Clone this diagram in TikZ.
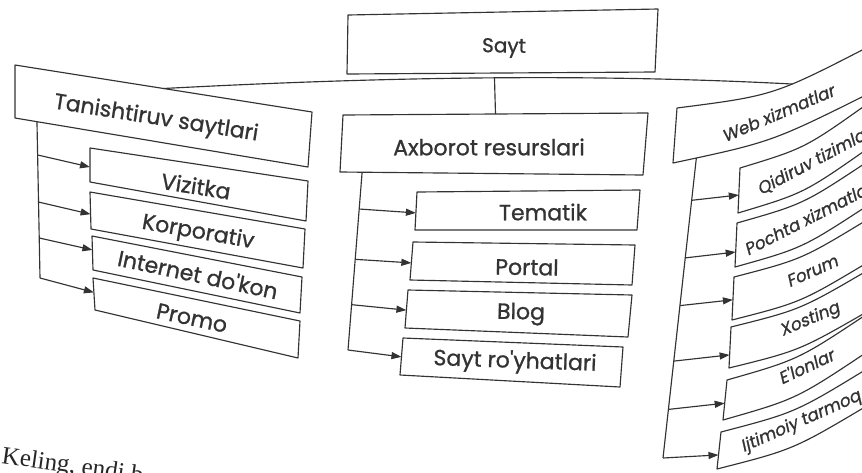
\documentclass[tikz,border=0pt]{standalone}
\usepackage{fontspec}
\setmainfont{Poppins}
\newfontfamily\lblfont{Poppins}[FakeBold=1]
\newfontfamily\slantfont{Poppins}[FakeBold=1,FakeSlant=0.2]
\newfontfamily\pageserif{Liberation Serif}
\usetikzlibrary{arrows.meta}
\definecolor{ink}{HTML}{333333}
\tikzset{
  boxline/.style={draw=ink, line width=1.15pt, line join=round},
  conn/.style={draw=ink, line width=1.15pt},
  arr/.style={conn, -{Triangle[length=10pt,width=7pt]}},
  lbl/.style={text=ink, font=\lblfont\fontsize{22}{26}\selectfont, inner sep=0pt},
  rlbl/.style={text=ink, font=\slantfont\fontsize{17}{20}\selectfont, inner sep=0pt},
}
% straight four-sided box: name, tl, tr, br, bl
\newcommand\qbox[5]{%
  \coordinate (#1-tl) at (#2);\coordinate (#1-tr) at (#3);
  \coordinate (#1-br) at (#4);\coordinate (#1-bl) at (#5);
  \draw[boxline] (#1-tl) -- (#1-tr) -- (#1-br) -- (#1-bl) -- cycle;}
% curved box running off the right edge: name, x0, ytop, x1, ybot, dtop, dbot
\newcommand\rbox[7]{%
  \pgfmathsetmacro\rbcxa{(#2+870)/2}\pgfmathsetmacro\rbcya{#3-0.3*#6}\pgfmathsetmacro\rbea{#3-#6}%
  \pgfmathsetmacro\rbcxb{(#4+870)/2}\pgfmathsetmacro\rbcyb{#5-0.3*#7}\pgfmathsetmacro\rbeb{#5-#7}%
  \coordinate (#1-tl) at (#2,#3);\coordinate (#1-bl) at (#4,#5);
  \coordinate (#1-tr) at (870,\rbea);\coordinate (#1-br) at (870,\rbeb);
  \draw[boxline] (#1-tr) .. controls (\rbcxa,\rbcya) .. (#1-tl) -- (#1-bl)
     .. controls (\rbcxb,\rbcyb) .. (#1-br);}
\begin{document}
\begin{tikzpicture}[x=1pt,y=-1pt]
\useasboundingbox (0,0) rectangle (862,472);
\clip (0,0) rectangle (862,472);

% ---- top
\qbox{sayt}{348,15}{658,9}{655,72}{347,74}
\node[lbl, font=\lblfont\fontsize{20}{24}\selectfont, rotate=-1] (sayt-t) at (504,48) {Sayt};

% ---- level 1
\qbox{tan}{15,65}{312,112}{308,167}{15,118}
\node[lbl, rotate=-9] (tan-t) at (156,119) {Tanishtiruv saytlari};

\qbox{ax}{343,115}{648,113}{643,175}{340,172}
\node[lbl] (ax-t) at (489,147) {Axborot resurslari};

\coordinate (web-tl) at (677,108); \coordinate (web-bl) at (673,163);
\coordinate (web-tr) at (870,46);  \coordinate (web-br) at (870,93);
\draw[boxline] (web-tr) .. controls (773.5,95.6) .. (web-tl) -- (web-bl)
   .. controls (771.5,142) .. (web-br);
\path (web-tl) .. controls (773.5,95.6) .. (web-tr) coordinate[pos=0.627] (web-in);
\path (web-bl) .. controls (771.5,142) .. (web-br) coordinate[pos=0.086] (web-stem);
\node[rlbl, rotate=23] (web-t) at (778,113) {Web xizmatlar};

% ---- connector from Sayt
\path (tan-tl) -- (tan-tr) coordinate[pos=0.5] (tan-in);
\draw[conn] (tan-in) .. controls (400,76) and (600,74) .. (web-in);
\path (tan-in) .. controls (400,76) and (600,74) .. (web-in) coordinate[pos=0.5] (hub);
\path (ax-tl) -- (ax-tr) coordinate[pos=0.5] (ax-top);
\draw[conn] (hub) -- (ax-top);

% ---- left group
\qbox{viz}{90,148}{308,181}{306,221}{90,182}
\qbox{kor}{90,192}{305,229}{303,268}{91,229}
\qbox{int}{92,236}{302,277}{300,313}{93,270}
\qbox{pro}{93,278}{300,321}{298,358}{95,310}
\node[lbl, rotate=-9]  (viz-t) at (196,186) {Vizitka};
\node[lbl, rotate=-10] (kor-t) at (198,233) {Korporativ};
\node[lbl, rotate=-12] (int-t) at (198,274) {Internet do'kon};
\node[lbl, rotate=-12] (pro-t) at (192,318) {Promo};

\path (tan-bl) -- (tan-br) coordinate[pos=0.075] (tan-stem);
\coordinate (tan-end) at (40,278);
\draw[conn] (tan-stem) -- (tan-end);
\path (tan-stem) -- (tan-end) coordinate[pos=0.213] (s1) coordinate[pos=0.514] (s2) coordinate[pos=0.744] (s3);
\path (viz-tl) -- (viz-bl) coordinate[pos=0.56] (viz-in);
\path (kor-tl) -- (kor-bl) coordinate[pos=0.6] (kor-in);
\path (int-tl) -- (int-bl) coordinate[pos=0.41] (int-in);
\path (pro-tl) -- (pro-bl) coordinate[pos=0.45] (pro-in);
\draw[arr] (s1) -- (viz-in);
\draw[arr] (s2) -- (kor-in);
\draw[arr] (s3) -- (int-in);
\draw[arr] (tan-end) -- (pro-in);

% ---- middle group
\qbox{tem}{417,192}{640,190}{637,230}{415,230}
\qbox{por}{413,242}{635,245}{632,285}{410,280}
\qbox{blo}{408,290}{632,295}{628,337}{405,328}
\qbox{roy}{403,338}{623,347}{620,387}{400,375}
\node[lbl] (tem-t) at (543,212) {Tematik};
\node[lbl, rotate=-1] (por-t) at (527,267) {Portal};
\node[lbl, rotate=-1] (blo-t) at (521,314) {Blog};
\node[lbl, rotate=-2] (roy-t) at (515,362) {Sayt ro'yhatlari};

\path (ax-bl) -- (ax-br) coordinate[pos=0.073] (ax-stem);
\coordinate (ax-end) at (348,350);
\draw[conn] (ax-stem) -- (ax-end);
\path (ax-stem) -- (ax-end) coordinate[pos=0.207] (m1) coordinate[pos=0.49] (m2) coordinate[pos=0.745] (m3);
\path (tem-tl) -- (tem-bl) coordinate[pos=0.55] (tem-in);
\path (por-tl) -- (por-bl) coordinate[pos=0.55] (por-in);
\path (blo-tl) -- (blo-bl) coordinate[pos=0.53] (blo-in);
\path (roy-tl) -- (roy-bl) coordinate[pos=0.51] (roy-in);
\draw[arr] (m1) -- (tem-in);
\draw[arr] (m2) -- (por-in);
\draw[arr] (m3) -- (blo-in);
\draw[arr] (ax-end) -- (roy-in);

% ---- right group
\rbox{qid}{740}{168}{738}{213}{66}{66}
\rbox{poc}{737}{223}{735}{267}{63}{63}
\rbox{for}{734}{277}{732}{320}{59}{59}
\rbox{xos}{731}{327}{729}{368}{58}{58}
\rbox{elo}{727}{380}{723}{420}{68}{70}
\rbox{ijt}{721}{432}{717}{469}{65}{65}
\node[rlbl, rotate=28] (qid-t) at (816,160) {Qidiruv tizimlari};
\node[rlbl, rotate=27] (poc-t) at (810,217) {Pochta xizmatlari};
\node[rlbl, rotate=24] (for-t) at (812,271) {Forum};
\node[rlbl, rotate=23] (xos-t) at (810,320) {Xosting};
\node[rlbl, rotate=25] (elo-t) at (806,366) {E'lonlar};
\node[rlbl, rotate=24] (ijt-t) at (801,422) {Ijtimoiy tarmoq};

\coordinate (web-end) at (663,458);
\draw[conn] (web-stem) -- (web-end);
\path (web-stem) -- (web-end) coordinate[pos=0.141] (r1) coordinate[pos=0.333] (r2)
  coordinate[pos=0.492] (r3) coordinate[pos=0.677] (r4) coordinate[pos=0.838] (r5);
\path (qid-tl) -- (qid-bl) coordinate[pos=0.6] (qid-in);
\path (poc-tl) -- (poc-bl) coordinate[pos=0.66] (poc-in);
\path (for-tl) -- (for-bl) coordinate[pos=0.53] (for-in);
\path (xos-tl) -- (xos-bl) coordinate[pos=0.68] (xos-in);
\path (elo-tl) -- (elo-bl) coordinate[pos=0.58] (elo-in);
\path (ijt-tl) -- (ijt-bl) coordinate[pos=0.62] (ijt-in);
\draw[arr] (r1) -- (qid-in);
\draw[arr] (r2) -- (poc-in);
\draw[arr] (r3) -- (for-in);
\draw[arr] (r4) -- (xos-in);
\draw[arr] (r5) -- (elo-in);
\draw[arr] (web-end) -- (ijt-in);

% ---- page text below
\node[anchor=base west, rotate=-8, text=black!85, inner sep=0pt,
      font=\pageserif\fontsize{25}{29}\selectfont] (page-t) at (1,463) {Keling, endi b};
\end{tikzpicture}
\end{document}
